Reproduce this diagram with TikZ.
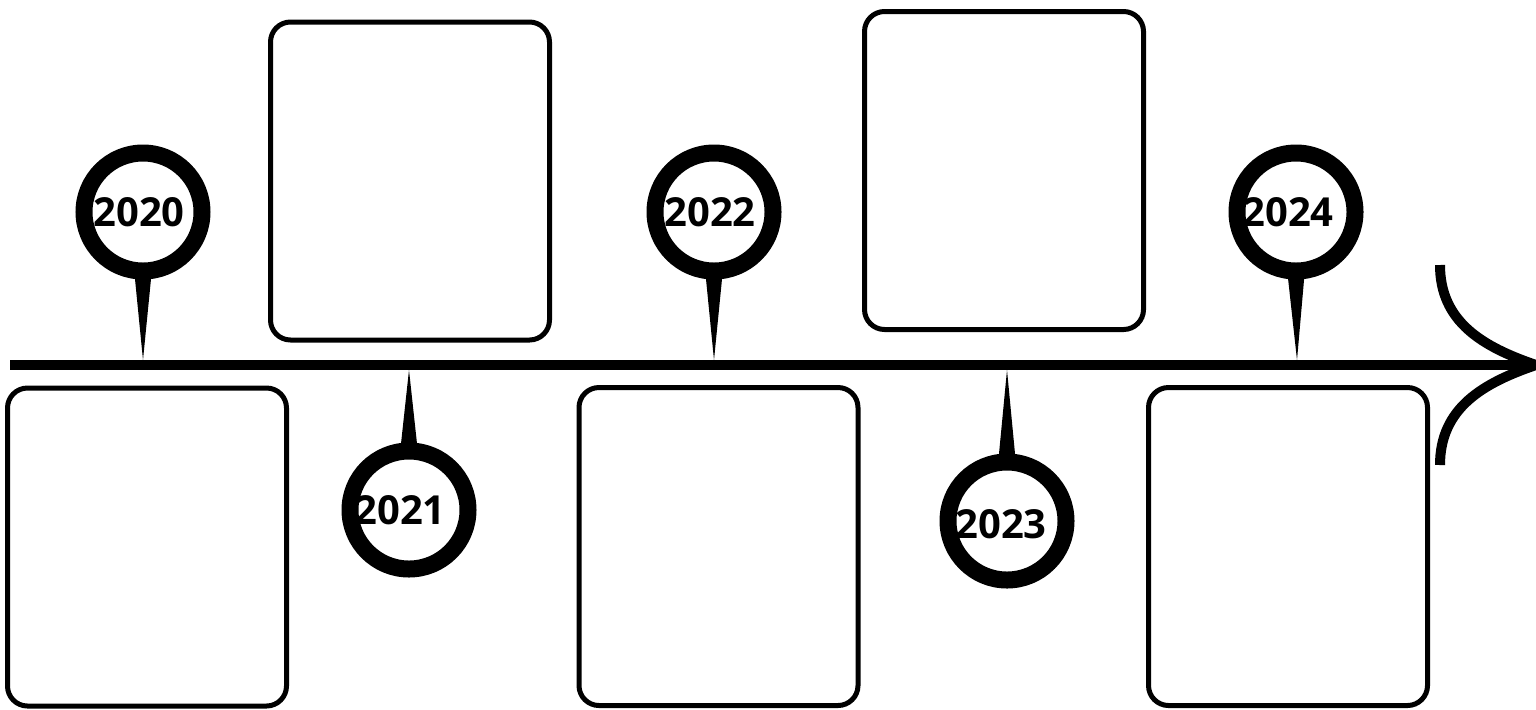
\documentclass[tikz,border=0pt]{standalone}
\usepackage{fontspec}
\setmainfont{Open Sans}
\tikzset{
    x=0.5pt, y=-0.5pt, % one unit is one pixel of the sketch, y runs down
    notebox/.style={draw, fill=white, rounded corners=10pt, line width=2.5pt, minimum width=139.5pt, minimum height=159pt}, % empty text boxes
    yearpin/.style={circle, draw, fill=white, line width=8.5pt, minimum size=59pt, inner sep=0pt, outer sep=0pt}, % round head of a pin
    year/.style={font=\fontsize{20}{24}\selectfont\bfseries}, % the year inside a pin
    axis/.style={line width=5pt}, % time line and its head
}
\begin{document}
\begin{tikzpicture}
    \useasboundingbox (0,0) rectangle (1536,709);
    % boxes
    \node[notebox] (b2020) at (147,547) {};
    \node[notebox] (b2021) at (410,181) {};
    \node[notebox] (b2022) at (718.5,546.5) {};
    \node[notebox] (b2023) at (1004,170.5) {};
    \node[notebox] (b2024) at (1288,546.5) {};
    % time line
    \coordinate (start) at (10,365);
    \coordinate (tip) at (1536,365);
    \coordinate (headtop) at (1440,265);
    \coordinate (headbot) at (1440,465);
    \draw[axis] (start) -- (tip);
    \draw[axis] (headtop) .. controls (1440,322) and (1483,347) .. (tip);
    \draw[axis] (headbot) .. controls (1440,408) and (1483,383) .. (tip);
    % pins
    \node[yearpin, label={[year, xshift=-2pt]center:2020}] (p2020) at (143,212) {};
    \node[yearpin, label={[year, xshift=-4.5pt]center:2021}] (p2021) at (409,510) {};
    \node[yearpin, label={[year, xshift=-2pt]center:2022}] (p2022) at (714,212) {};
    \node[yearpin, label={[year, xshift=-3pt, yshift=-1.5pt]center:2023}] (p2023) at (1007,521) {};
    \node[yearpin, label={[year, xshift=-4pt]center:2024}] (p2024) at (1296,212) {};
    \coordinate (a2020) at (143,360);
    \coordinate (a2021) at (409,370);
    \coordinate (a2022) at (714,360);
    \coordinate (a2023) at (1007,370);
    \coordinate (a2024) at (1297,360);
    \fill ([xshift=-4.4pt]p2020.south) -- (a2020) -- ([xshift=4.4pt]p2020.south) -- cycle;
    \fill ([xshift=-4.4pt]p2021.north) -- (a2021) -- ([xshift=4.4pt]p2021.north) -- cycle;
    \fill ([xshift=-4.4pt]p2022.south) -- (a2022) -- ([xshift=4.4pt]p2022.south) -- cycle;
    \fill ([xshift=-4.4pt]p2023.north) -- (a2023) -- ([xshift=4.4pt]p2023.north) -- cycle;
    \fill ([xshift=-4.4pt]p2024.south) -- (a2024) -- ([xshift=4.4pt]p2024.south) -- cycle;
\end{tikzpicture}
\end{document}
